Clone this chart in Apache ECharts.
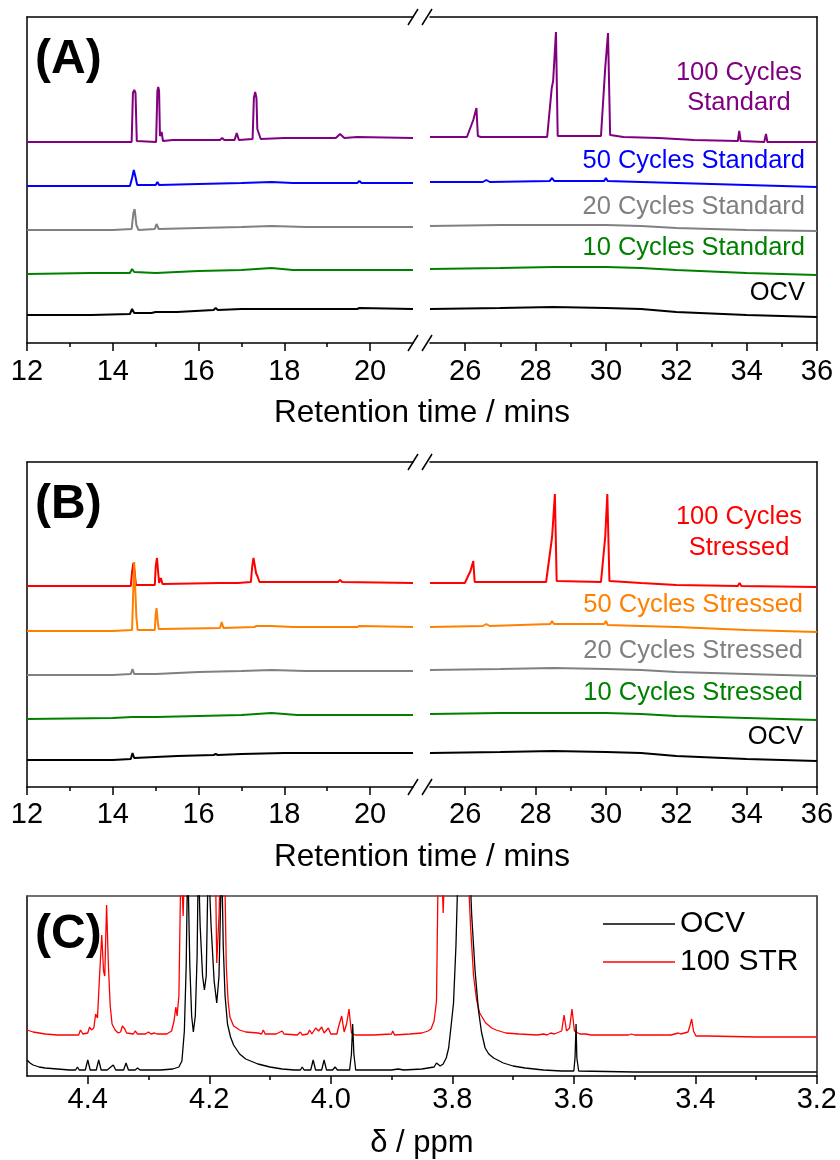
<!DOCTYPE html>
<html><head><meta charset="utf-8">
<script src="https://cdn.jsdelivr.net/npm/echarts@6/dist/echarts.min.js"></script>
<style>html,body{margin:0;padding:0;background:#fff}#c{width:840px;height:1160px}</style>
</head><body><div id="c"></div>
<script>
// ---------- tick values ----------
const majorLeft = [12, 14, 16, 18, 20];
const minorLeft = [13, 15, 17, 19];
const majorRight = [26, 28, 30, 32, 34, 36];
const minorRight = [27, 29, 31, 33, 35];
const ppmMajor = [4.4, 4.2, 4.0, 3.8, 3.6, 3.4, 3.2];
const ppmMinor = [4.3, 4.1, 3.9, 3.7, 3.5, 3.3];

// ---------- labels / colours ----------
const labelsA = ['100 Cycles\nStandard', '50 Cycles Standard', '20 Cycles Standard', '10 Cycles Standard', 'OCV'];
const labelsB = ['100 Cycles\nStressed', '50 Cycles Stressed', '20 Cycles Stressed', '10 Cycles Stressed', 'OCV'];
const colorsA = ['#800080', '#0000ff', '#808080', '#008000', '#000000'];
const colorsB = ['#ff0000', '#ff8000', '#808080', '#008000', '#000000'];
const nmrNames = ['OCV', '100 STR'];

// ---------- Panel A: [retention time (min), offset intensity (a.u.)] ----------
const a100L = [[12,201],[13,201],[14,201],[14.44,201],[14.47,250],[14.5,253],[14.53,250],[14.56,202],[15.01,201],[15.04,252],[15.06,256],[15.08,252],[15.1,207],[15.14,211],[15.17,202],[15.4,203],[16.5,203],[16.55,205],[16.6,203],[16.84,203],[16.89,210],[16.94,203],[17.26,204],[17.29,245],[17.32,251],[17.35,245],[17.37,214],[17.41,212],[17.45,204],[18,205],[19.2,205],[19.3,209],[19.4,205],[19.7,206],[21,205]];
const a100R = [[25,206],[26.05,206],[26.23,223],[26.32,235],[26.36,207],[26.45,206],[28,206],[28.33,206],[28.46,255],[28.5,262],[28.58,311],[28.6,311],[28.63,207],[29,207],[29.86,207],[29.98,275],[30.06,310],[30.08,310],[30.12,208],[30.5,206],[31.5,205],[32.5,203],[33.75,202],[33.79,212],[33.83,202],[34.5,201],[34.55,209],[34.59,201],[36,201]];
const a50L = [[12,157],[13.5,157],[14.4,157],[14.45,165],[14.49,173],[14.53,166],[14.57,158],[15.0,158],[15.04,161],[15.08,158],[16,159],[17,160],[17.7,161],[18.2,160],[19.7,160],[19.75,162],[19.8,160],[21,160]];
const a50R = [[25,161],[26.5,161],[26.6,163],[26.7,161],[28.4,162],[28.47,165],[28.53,162],[29.95,162],[30.0,165],[30.05,162],[31,161],[32,160],[34,158],[36,156]];
const a20L = [[12,113],[14,113],[14.44,114],[14.48,130],[14.51,134],[14.55,118],[14.6,113],[14.98,114],[15.02,119],[15.07,114],[16,115],[17,116],[17.7,117],[18.5,116],[21,116]];
const a20R = [[25,117],[27,118],[28.5,118],[30,118],[31,117],[32,115],[34,113],[36,112]];
const a10L = [[12,69],[13.5,70],[14.4,70],[14.45,74],[14.5,71],[15,70],[16,72],[17,73],[17.7,75],[18.2,73],[21,73]];
const a10R = [[25,74],[27,75],[28.5,76],[30,76],[31,75],[32,73],[34,70],[36,68]];
const aOcvL = [[12,28],[13.5,28],[14.4,29],[14.45,34],[14.5,30],[14.9,30],[15.0,31],[15.5,31],[16.35,33],[16.4,35],[16.45,33],[17,34],[18,34],[19.7,34],[19.75,35],[21,34]];
const aOcvR = [[25,34],[27,35],[28.5,36],[30,35],[31,34],[32,31],[34,28],[36,26]];

// ---------- Panel B ----------
const b100L = [[12,201],[14,201],[14.42,201],[14.45,215],[14.48,224],[14.51,215],[14.54,202],[14.98,202],[15.0,220],[15.03,229],[15.06,214],[15.08,204],[15.12,209],[15.16,203],[16.5,204],[16.85,204],[16.88,206],[16.92,204],[17.22,205],[17.25,220],[17.28,229],[17.31,222],[17.34,214],[17.38,210],[17.42,205],[18,205],[19.25,205],[19.3,207],[19.35,205],[21,204]];
const b100R = [[25,204],[25.99,204],[26.15,216],[26.23,226],[26.27,205],[27,205],[28.3,205],[28.47,250],[28.55,293],[28.57,293],[28.6,206],[29.86,205],[29.98,250],[30.04,293],[30.06,293],[30.1,206],[31,204],[32,202],[33.75,201],[33.8,204],[33.85,201],[36,200]];
const b50L = [[12,156],[14,156],[14.45,157],[14.48,200],[14.5,225],[14.53,225],[14.55,170],[14.58,157],[14.98,157],[15.0,172],[15.02,179],[15.05,165],[15.07,158],[15.1,160],[15.13,158],[16.5,159],[16.54,165],[16.58,159],[17.3,160],[17.35,161],[17.7,161],[18.2,160],[19.7,160],[19.75,161],[21,160]];
const b50R = [[25,160],[26.5,161],[26.6,163],[26.7,161],[28.42,163],[28.47,166],[28.52,163],[29.95,163],[30.0,166],[30.05,162],[31,161],[32,160],[34,157],[36,155]];
const b20L = [[12,112],[14,112],[14.42,113],[14.46,118],[14.5,113],[15,113],[16,115],[17,116],[17.7,117],[18.5,116],[21,116]];
const b20R = [[25,117],[27,118],[28.5,119],[30,118],[31,117],[32,115],[34,113],[36,111]];
const b10L = [[12,68],[14,69],[14.45,70],[15,70],[16,71],[17,72],[17.7,74],[18.3,72],[21,72]];
const b10R = [[25,73],[27,74],[28.5,74],[30,74],[31,73],[32,71],[34,69],[36,67]];
const bOcvL = [[12,27],[14,27],[14.42,28],[14.46,34],[14.5,29],[15,30],[15.5,31],[16.35,32],[16.4,33],[16.45,32],[17,33],[18,34],[21,34]];
const bOcvR = [[25,34],[27,35],[28.5,36],[30,35],[31,34],[32,31],[34,28],[36,26]];

// ---------- Panel C: [δ (ppm), intensity (a.u.)] ----------
const cOcv = [[4.5,16],[4.495,13],[4.49,11],[4.48,9],[4.47,8],[4.45,7],[4.43,6],[4.42,6],[4.417,9],[4.414,6],[4.404,6],[4.4,16],[4.396,6],[4.386,6],[4.382,16],[4.378,6],[4.368,6],[4.364,8],[4.361,7],[4.358,11],[4.354,6],[4.341,6],[4.337,13],[4.333,6],[4.322,6],[4.318,8],[4.314,6],[4.28,6],[4.26,7],[4.25,9],[4.245,15],[4.241,45],[4.238,110],[4.2355,220],[4.232,110],[4.229,60],[4.2262,44],[4.223,60],[4.22,120],[4.218,220],[4.215,150],[4.211,100],[4.208,86],[4.205,100],[4.2016,220],[4.197,150],[4.192,95],[4.1877,73],[4.184,100],[4.1796,220],[4.177,130],[4.174,80],[4.17,52],[4.165,39],[4.16,31],[4.15,22],[4.14,17],[4.12,12],[4.1,9],[4.08,7],[4.06,6],[4.05,6],[4.047,9],[4.044,6],[4.033,6],[4.029,16],[4.025,6],[4.015,6],[4.011,16],[4.007,6],[3.997,6],[3.993,9],[3.989,6],[3.969,6],[3.966,22],[3.964,52],[3.962,22],[3.959,6],[3.9,6],[3.889,7],[3.88,6],[3.85,7],[3.83,9],[3.826,13],[3.823,11],[3.82,10],[3.815,12],[3.81,18],[3.806,28],[3.802,50],[3.798,73],[3.794,130],[3.79,220],[3.772,220],[3.768,160],[3.7626,106],[3.757,66],[3.752,44],[3.746,28],[3.74,22],[3.732,18],[3.716,13],[3.7,10],[3.68,8],[3.65,6],[3.62,5],[3.6,5],[3.598,18],[3.5963,52],[3.595,18],[3.592,5],[3.5,4],[3.4,4],[3.3,4],[3.2,4]];
const cStr = [[4.5,46],[4.49,44],[4.47,42],[4.45,41],[4.43,41],[4.428,43],[4.425,41],[4.415,41],[4.412,46],[4.408,42],[4.4,43],[4.397,49],[4.394,46],[4.39,48],[4.387,62],[4.384,58],[4.381,95],[4.377,141],[4.374,105],[4.372,100],[4.369,171],[4.366,110],[4.363,70],[4.36,52],[4.355,46],[4.35,43],[4.346,44],[4.343,50],[4.339,47],[4.336,43],[4.325,42],[4.322,45],[4.318,42],[4.305,42],[4.3,44],[4.296,42],[4.29,43],[4.286,42],[4.27,42],[4.262,45],[4.258,55],[4.255,69],[4.253,60],[4.25,80],[4.2465,220],[4.243,160],[4.2405,220],[4.236,220],[4.19,220],[4.1877,113],[4.184,160],[4.181,220],[4.175,220],[4.172,110],[4.169,75],[4.166,59],[4.16,50],[4.15,46],[4.14,44],[4.12,43],[4.114,42],[4.111,46],[4.108,42],[4.09,42],[4.08,45],[4.077,42],[4.055,41],[4.05,44],[4.047,41],[4.038,42],[4.035,46],[4.031,42],[4.025,48],[4.02,45],[4.015,49],[4.011,43],[4.004,48],[4.0,42],[3.99,42],[3.986,52],[3.982,60],[3.978,44],[3.974,52],[3.97,67],[3.966,43],[3.96,41],[3.93,41],[3.9,42],[3.898,45],[3.895,41],[3.87,42],[3.85,43],[3.84,45],[3.835,47],[3.83,55],[3.826,75],[3.823,220],[3.818,220],[3.815,163],[3.812,220],[3.775,220],[3.77,150],[3.765,100],[3.76,76],[3.755,63],[3.745,53],[3.735,48],[3.728,46],[3.712,43],[3.69,42],[3.66,41],[3.65,42],[3.647,44],[3.644,41],[3.638,43],[3.632,42],[3.62,45],[3.616,61],[3.612,45],[3.607,48],[3.603,67],[3.599,45],[3.59,42],[3.58,42],[3.577,43],[3.572,41],[3.51,41],[3.505,42],[3.5,41],[3.44,41],[3.428,43],[3.424,42],[3.412,44],[3.409,50],[3.406,57],[3.403,45],[3.399,40],[3.38,40],[3.3,39],[3.2,39]];

// ---------- layout ----------
const FONT = '"Liberation Sans", Arial, Helvetica, sans-serif';
const BLACK = '#000';
const panels = [
  {top: 17, height: 326, ymax: 326},
  {top: 462, height: 325, ymax: 325}
];
const LEFT_X = 27, LEFT_W = 386, RIGHT_X = 430, RIGHT_W = 387;

const grids = [];
const xAxes = [];
const yAxes = [];
const series = [];
const graphics = [];

function axisLineStyle(c) { return {show: true, onZero: false, lineStyle: {color: c || BLACK, width: 1.5}}; }

function addXAxes(g, min, max, major, minor, margin, inverse, extra) {
  const base = {gridIndex: g, type: 'value', min: min, max: max, inverse: !!inverse, splitLine: {show: false}};
  const idx = xAxes.length;
  xAxes.push(Object.assign({}, base, {
    position: 'bottom', axisLine: axisLineStyle(),
    axisTick: {show: true, inside: false, length: 8, customValues: major, lineStyle: {color: BLACK, width: 1.5}},
    axisLabel: {show: true, customValues: major, margin: margin, fontSize: 29, color: BLACK, fontFamily: FONT,
      formatter: function (v) { return inverse ? (+v).toFixed(1) : String(v); }}
  }, extra || {}));
  xAxes.push(Object.assign({}, base, {
    position: 'bottom', axisLine: {show: false},
    axisTick: {show: true, inside: false, length: 4, customValues: minor, lineStyle: {color: BLACK, width: 1.5}},
    axisLabel: {show: false}
  }));
  xAxes.push(Object.assign({}, base, {
    position: 'top', axisLine: axisLineStyle(inverse ? '#444' : BLACK), axisTick: {show: false}, axisLabel: {show: false}
  }));
  return idx;
}
function addYAxis(g, max, pos) {
  yAxes.push({gridIndex: g, type: 'value', min: 0, max: max, position: pos, axisLine: axisLineStyle(),
    axisTick: {show: false}, axisLabel: {show: false}, splitLine: {show: false}});
  return yAxes.length - 1;
}
function txt(text, x, y, color, size, align, bold, lh) {
  graphics.push({type: 'text', x: x, y: y, z: 100, style: {
    text: text, fill: color, font: (bold ? 'bold ' : '') + size + 'px ' + FONT,
    align: align, textAlign: align, verticalAlign: 'middle', textVerticalAlign: 'middle', lineHeight: lh || size
  }});
}
function slash(x1, y1, x2, y2) {
  graphics.push({type: 'line', z: 100, shape: {x1: x1, y1: y1, x2: x2, y2: y2}, style: {stroke: BLACK, lineWidth: 1.5}});
}

const panelData = [
  {left: [a100L, a50L, a20L, a10L, aOcvL], right: [a100R, a50R, a20R, a10R, aOcvR], labels: labelsA, colors: colorsA, tag: 'A'},
  {left: [b100L, b50L, b20L, b10L, bOcvL], right: [b100R, b50R, b20R, b10R, bOcvR], labels: labelsB, colors: colorsB, tag: 'B'}
];

panelData.forEach(function (pd, p) {
  const P = panels[p];
  const gL = grids.length;
  grids.push({left: LEFT_X, top: P.top, width: LEFT_W, height: P.height, containLabel: false});
  const gR = grids.length;
  grids.push({left: RIGHT_X, top: P.top, width: RIGHT_W, height: P.height, containLabel: false});
  const margin = p === 0 ? 14 : 13;
  const xL = addXAxes(gL, 12, 21, majorLeft, minorLeft, margin, false);
  const xR = addXAxes(gR, 25, 36, majorRight, minorRight, margin, false);
  const yL = addYAxis(gL, P.ymax, 'left');
  const yR = addYAxis(gR, P.ymax, 'right');
  for (let i = 0; i < 5; i++) {
    const nm = pd.tag + ': ' + pd.labels[i].replace('\n', ' ');
    const common = {type: 'line', name: nm, showSymbol: false, symbol: 'none', clip: true, silent: true,
      lineStyle: {color: pd.colors[i], width: 2}, itemStyle: {color: pd.colors[i]}, z: 2 + i};
    series.push(Object.assign({}, common, {xAxisIndex: xL, yAxisIndex: yL, data: pd.left[i]}));
    series.push(Object.assign({}, common, {xAxisIndex: xR, yAxisIndex: yR, data: pd.right[i]}));
  }
  // break marks
  const yT = P.top, yB = P.top + P.height;
  [yT, yB].forEach(function (yy) {
    slash(408, yy + 8, 418, yy - 8);
    slash(422, yy + 8, 432, yy - 8);
  });
  // axis title
  txt('Retention time / mins', 422, yB + 70, BLACK, 31.5, 'center');
  // panel tag
  txt('(' + pd.tag + ')', 35, P.top + 43, BLACK, 48, 'left', true);
});

// series labels
const labYA = [88, 161, 207, 248, 293];
const labYB = [532, 605, 651, 693, 737];
labelsA.forEach(function (l, i) {
  if (i === 0) txt(l, 739, labYA[i], colorsA[i], 25.5, 'center', false, 30);
  else txt(l, 805, labYA[i], colorsA[i], 25.5, 'right');
});
labelsB.forEach(function (l, i) {
  if (i === 0) txt(l, 739, labYB[i], colorsB[i], 25.5, 'center', false, 31);
  else txt(l, 803, labYB[i], colorsB[i], 25.5, 'right');
});

// ---------- Panel C ----------
const gC = grids.length;
grids.push({left: 27, top: 896, width: 790, height: 180, containLabel: false});
const xC = addXAxes(gC, 3.2, 4.5, ppmMajor, ppmMinor, 9, true, {
  name: 'δ / ppm', nameLocation: 'middle', nameGap: 52,
  nameTextStyle: {fontSize: 31, color: BLACK, fontFamily: FONT}
});
const yC = addYAxis(gC, 180, 'left');
const yC2 = addYAxis(gC, 180, 'right');
yAxes[yC2].axisLine.lineStyle.color = '#222';
series.push({type: 'line', name: nmrNames[1], xAxisIndex: xC, yAxisIndex: yC, data: cStr, symbol: 'none', showSymbol: false,
  clip: true, silent: true, lineStyle: {color: '#ff0000', width: 1.3}, itemStyle: {color: '#ff0000'}, z: 2});
series.push({type: 'line', name: nmrNames[0], xAxisIndex: xC, yAxisIndex: yC, data: cOcv, symbol: 'none', showSymbol: false,
  clip: true, silent: true, lineStyle: {color: '#000000', width: 1.3}, itemStyle: {color: '#000000'}, z: 3});
txt('(C)', 35, 935, BLACK, 48, 'left', true);

const chart = echarts.init(document.getElementById('c'), null, {renderer: 'canvas'});
chart.setOption({
  animation: false,
  backgroundColor: '#fff',
  grid: grids,
  xAxis: xAxes,
  yAxis: yAxes,
  series: series,
  legend: {
    data: nmrNames, orient: 'vertical', left: 598, top: 904, icon: 'rect', itemWidth: 72, itemHeight: 1.5, itemGap: 8,
    selectedMode: false,
    textStyle: {fontSize: 30, color: BLACK, fontFamily: FONT, lineHeight: 30}
  },
  graphic: graphics
});
</script></body></html>
